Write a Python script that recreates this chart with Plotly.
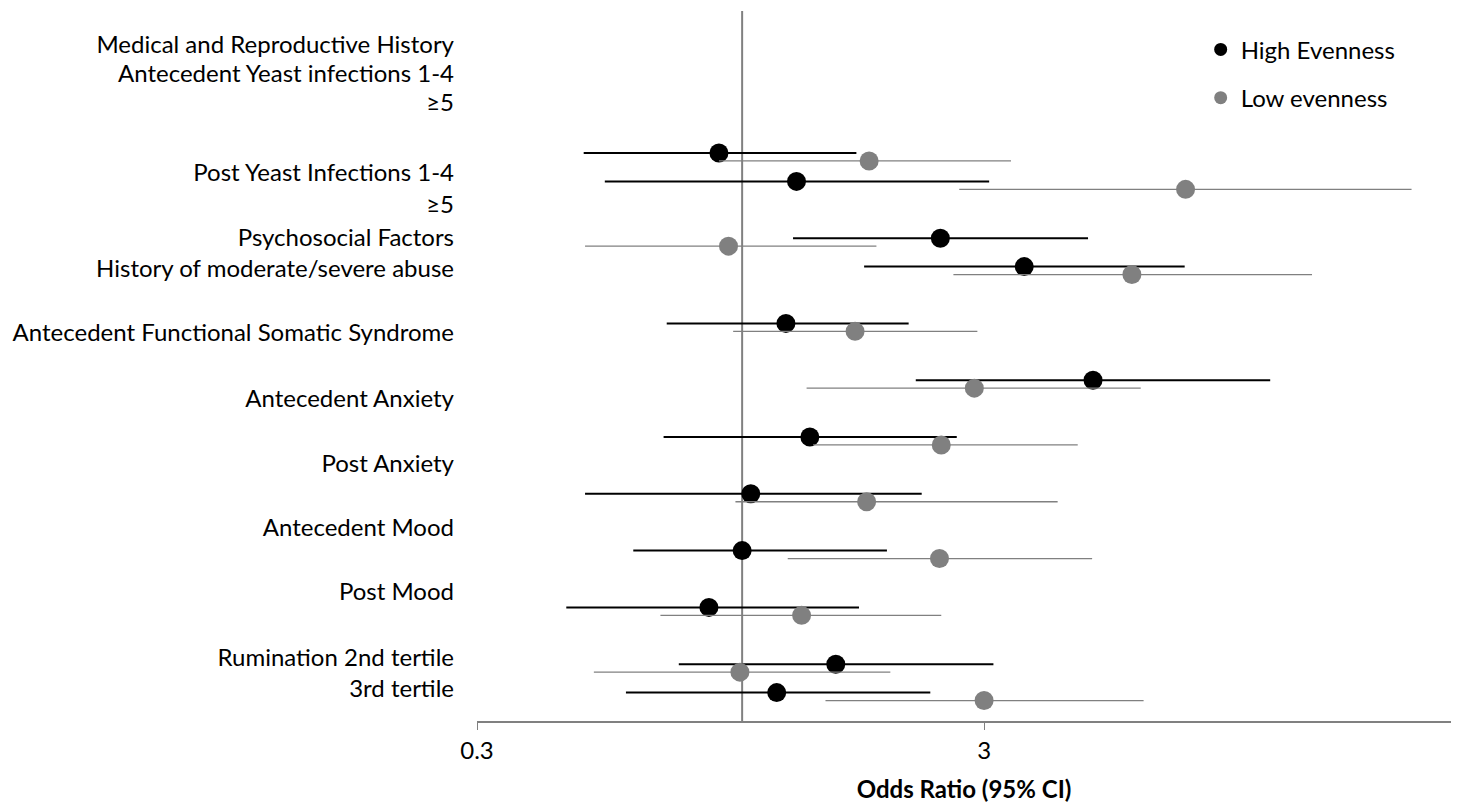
import math
import plotly.graph_objects as go

# ---- data ----
row_labels = [
    "Medical and Reproductive History",
    "Antecedent Yeast infections 1-4",
    "≥5",
    "Post Yeast Infections 1-4",
    "≥5",
    "Psychosocial Factors",
    "History of moderate/severe abuse",
    "Antecedent Functional Somatic Syndrome",
    "Antecedent Anxiety",
    "Post Anxiety",
    "Antecedent Mood",
    "Post Mood",
    "Rumination 2nd tertile",
    "3rd tertile",
]
label_pos = [23.80, 22.78, 21.76, 19.30, 18.17, 17.01, 15.92, 13.66, 11.34, 9.05, 6.80, 4.54, 2.25, 1.13]

high_y = [20, 19, 17, 16, 14, 12, 10, 8, 6, 4, 2, 1]
high_or = [0.90, 1.28, 2.46, 3.60, 1.22, 4.92, 1.36, 1.04, 1.00, 0.86, 1.53, 1.17]
high_lo = [0.487, 0.536, 1.26, 1.74, 0.71, 2.20, 0.70, 0.49, 0.61, 0.45, 0.75, 0.59]
high_hi = [1.68, 3.07, 4.81, 7.46, 2.13, 11.0, 2.65, 2.26, 1.93, 1.70, 3.13, 2.35]

low_y = [19.72, 18.72, 16.72, 15.72, 13.72, 11.72, 9.72, 7.72, 5.72, 3.72, 1.72, 0.72]
low_or = [1.78, 7.49, 0.94, 5.87, 1.67, 2.87, 2.47, 1.76, 2.45, 1.31, 0.99, 3.00]
low_lo = [0.90, 2.68, 0.49, 2.61, 0.96, 1.34, 1.38, 0.97, 1.23, 0.69, 0.51, 1.46]
low_hi = [3.39, 20.9, 1.84, 13.3, 2.91, 6.11, 4.59, 4.19, 4.90, 2.47, 1.96, 6.19]

x_ticks = [0.3, 3]
x_ticktext = ["0.3", "3"]
x_range = [0.3, 25]
y_range = [0, 25]

FONT = "Lato, 'Open Sans', sans-serif"
GRAY = "#808080"

fig = go.Figure()

fig.add_trace(go.Scatter(
    x=high_or, y=high_y, mode="markers", name="High Evenness", showlegend=False,
    marker=dict(color="black", size=19),
    error_x=dict(type="data", symmetric=False,
                 array=[h - o for h, o in zip(high_hi, high_or)],
                 arrayminus=[o - l for o, l in zip(high_or, high_lo)],
                 color="black", thickness=2, width=0),
))
fig.add_trace(go.Scatter(
    x=low_or, y=low_y, mode="markers", name="Low evenness", showlegend=False,
    marker=dict(color=GRAY, size=19),
    error_x=dict(type="data", symmetric=False,
                 array=[h - o for h, o in zip(low_hi, low_or)],
                 arrayminus=[o - l for o, l in zip(low_or, low_lo)],
                 color=GRAY, thickness=1.3, width=0),
))
# legend entries
fig.add_trace(go.Scatter(x=[None], y=[None], mode="markers", name="High Evenness",
                         legendgroup="a", marker=dict(color="black", size=13)))
fig.add_trace(go.Scatter(x=[None], y=[None], mode="markers", name="Low evenness",
                         legendgroup="b", marker=dict(color=GRAY, size=13)))

# reference line at OR = 1
fig.add_shape(type="line", x0=1, x1=1, y0=y_range[0], y1=y_range[1], xref="x", yref="y",
              line=dict(color=GRAY, width=2), layer="below")

# page body adds an 8px margin, so the figure is sized/offset to compensate
fig.update_layout(
    width=1453, height=797,
    margin=dict(l=469, r=10, t=3, b=84, autoexpand=False),
    paper_bgcolor="white", plot_bgcolor="white",
    font=dict(family=FONT, size=24, color="black"),
    showlegend=True,
    legend=dict(x=0.743, y=0.977, xanchor="left", yanchor="top",
                font=dict(family=FONT, size=24, color="black"),
                tracegroupgap=14, traceorder="grouped",
                bgcolor="rgba(0,0,0,0)"),
    xaxis=dict(
        type="log", range=[math.log10(x_range[0]), math.log10(x_range[1])],
        tickvals=x_ticks, ticktext=x_ticktext,
        ticks="outside", ticklen=7, tickcolor=GRAY, tickwidth=1.3,
        showline=True, linecolor=GRAY, linewidth=1.5,
        showgrid=False, zeroline=False,
        tickfont=dict(family=FONT, size=24, color="black"),
        title=dict(text="<b>Odds Ratio (95% CI)</b>", standoff=19,
                   font=dict(family=FONT, size=24, color="black")),
    ),
    yaxis=dict(
        range=y_range, tickvals=label_pos, ticktext=row_labels,
        ticks="", showline=False, showgrid=False, zeroline=False,
        ticklabelstandoff=22,
        tickfont=dict(family=FONT, size=24, color="black"),
    ),
)

fig.write_html("out.html")
